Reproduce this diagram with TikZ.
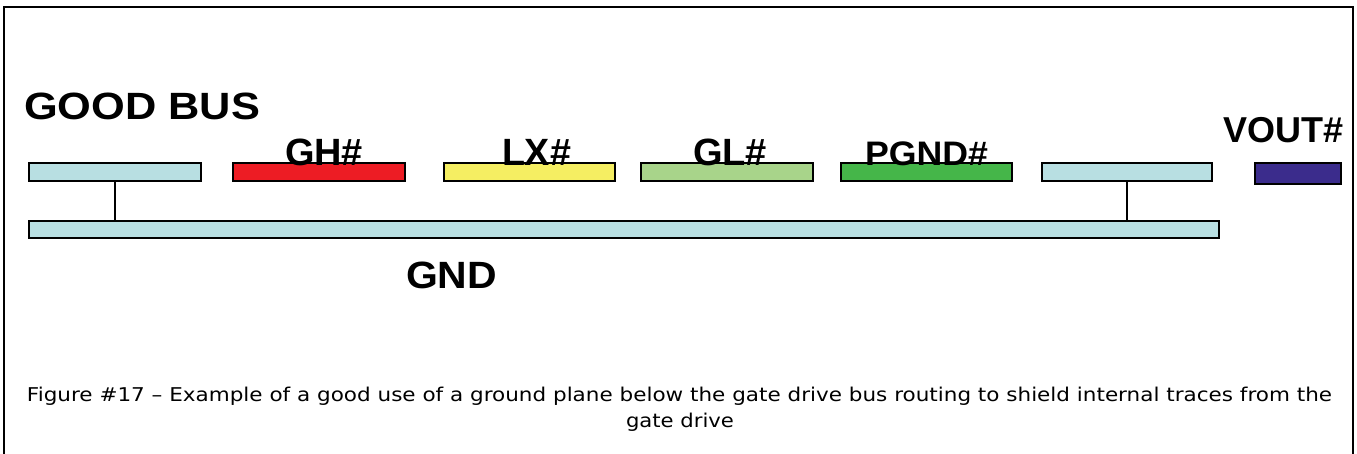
\documentclass[tikz,border=0pt]{standalone}
\usepackage{fontspec}
\usepackage{graphicx}
\newfontfamily\arialfam{Liberation Sans}
\newfontfamily\verdfam{DejaVu Sans}
\definecolor{lblue}{HTML}{B8DFE2}
\definecolor{rred}{HTML}{ED1C24}
\definecolor{yyel}{HTML}{F5EE62}
\definecolor{lgreen}{HTML}{A8D48A}
\definecolor{dgreen}{HTML}{45B649}
\definecolor{purp}{HTML}{3B2C8C}
\newcommand{\fitw}[2]{\resizebox{#1}{\height}{#2}}
\tikzset{
  bar/.style={draw=black, line width=1.8pt, rectangle, inner sep=0pt, minimum height=18pt},
  lbl/.style={inner sep=0pt, anchor=base, font=\arialfam\bfseries\fontsize{38}{40}\selectfont},
  capt/.style={inner sep=0pt, anchor=base, font=\verdfam\fontsize{19}{22}\selectfont},
  wire/.style={draw=black, line width=1.6pt}
}
\begin{document}
\begin{tikzpicture}[x=1pt, y=-1pt]
\useasboundingbox (0,0) rectangle (1357,454);
% frame
\draw[line width=2pt] (4,460) -- (4,7) -- (1353,7) -- (1353,460);
% top bars
\node[bar, fill=lblue, minimum width=172pt] (lb) at (115,172) {};
\node[bar, fill=rred, minimum width=172pt] (gh) at (319,172) {};
\node[bar, fill=yyel, minimum width=171pt] (lx) at (529.5,172) {};
\node[bar, fill=lgreen, minimum width=172pt] (gl) at (727,172) {};
\node[bar, fill=dgreen, minimum width=171pt] (pg) at (926.5,172) {};
\node[bar, fill=lblue, minimum width=170pt] (rb) at (1127,172) {};
\node[bar, fill=purp, minimum width=86pt, minimum height=21pt] (vo) at (1298,173.5) {};
% ground plane
\node[bar, fill=lblue, minimum width=1190pt, minimum height=17pt] (gnd) at (624,229.5) {};
% connections
\draw[wire] (lb.south) -- (lb.south |- gnd.north);
\draw[wire] (rb.south) -- (rb.south |- gnd.north);
% labels
\node[lbl, anchor=base west] (tgood) at (24,120) {\fitw{236pt}{GOOD BUS}};
\node[lbl] (tgh) at (324,166) {\fitw{78pt}{GH\#}};
\node[lbl] (tlx) at (536.5,166) {\fitw{69pt}{LX\#}};
\node[lbl] (tgl) at (730,166) {\fitw{74pt}{GL\#}};
\node[lbl, font=\arialfam\bfseries\fontsize{34}{36}\selectfont] (tpg) at (926.5,166) {\fitw{123pt}{PGND\#}};
\node[lbl, font=\arialfam\bfseries\fontsize{36}{38}\selectfont] (tvo) at (1283,143) {\fitw{120pt}{VOUT\#}};
\node[lbl] (tgnd) at (451.5,288) {\fitw{91pt}{GND}};
% caption
\node[capt] (cap1) at (679.5,401) {\fitw{1305pt}{Figure \#17 – Example of a good use of a ground plane below the gate drive bus routing to shield internal traces from the}};
\node[capt] (cap2) at (680,427) {\fitw{108pt}{gate drive}};
\end{tikzpicture}
\end{document}
